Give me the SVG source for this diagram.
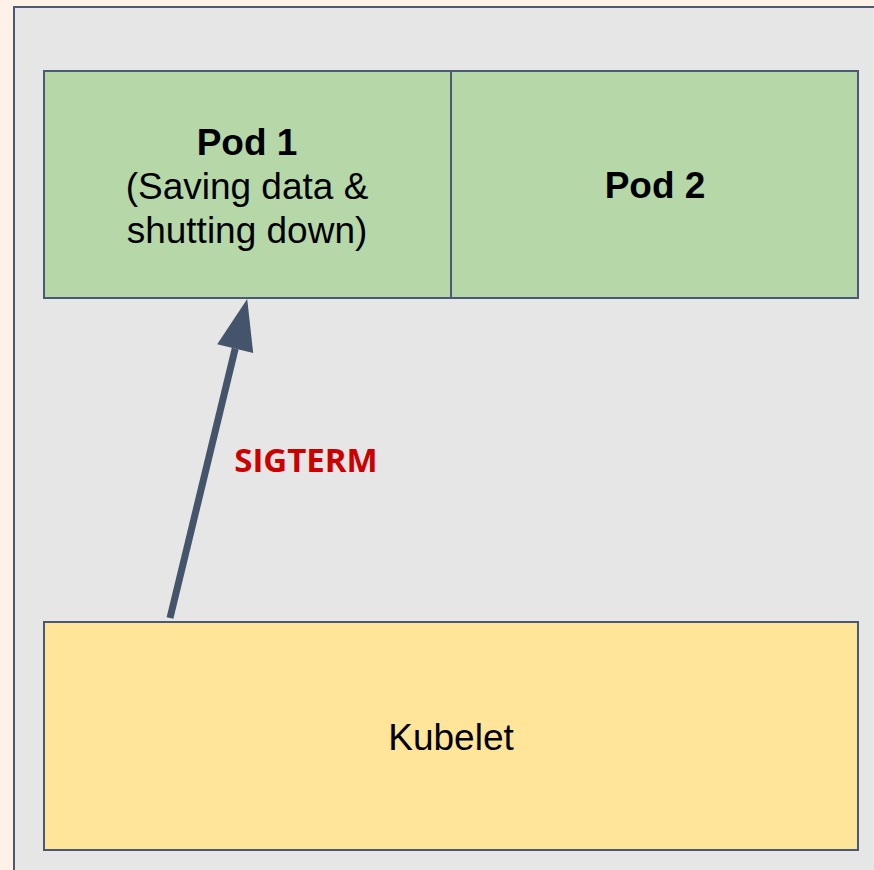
<svg xmlns="http://www.w3.org/2000/svg" width="874" height="870" viewBox="0 0 874 870">
<style>
.box{stroke:#4a5a73;stroke-width:2}
.t{font-family:"Liberation Sans",Arial,sans-serif;font-size:37px;fill:#000;text-anchor:middle}
.b{font-weight:bold}
</style>
<defs>
<marker id="ah" markerUnits="userSpaceOnUse" markerWidth="52" markerHeight="40" refX="0" refY="0" viewBox="-1 -20 52 40" orient="auto">
<path d="M51,0 L0,-18.5 L0,18.5 Z" fill="#44546a"/>
</marker>
</defs>
<rect x="0" y="0" width="874" height="870" fill="#fdf1e8"/>
<g id="container"><rect class="box" x="14" y="7" width="870" height="870" fill="#e6e6e6"/></g>
<g id="pod1">
<rect class="box" x="44" y="71" width="407" height="227" fill="#b6d7a8"/>
<text class="t b" x="247" y="155">Pod 1</text>
<text class="t" x="247" y="199">(Saving data &amp;</text>
<text class="t" x="247" y="243">shutting down)</text>
</g>
<g id="pod2">
<rect class="box" x="451" y="71" width="407" height="227" fill="#b6d7a8"/>
<text class="t b" x="655" y="198">Pod 2</text>
</g>
<g id="kubelet">
<rect class="box" x="44" y="622" width="814" height="228" fill="#ffe599"/>
<text class="t" x="451" y="750">Kubelet</text>
</g>
<g id="connectors">
<line x1="170" y1="618" x2="235.2" y2="348.6" stroke="#44546a" stroke-width="7" marker-end="url(#ah)"/>
<text x="306" y="472" font-family="'Open Sans',sans-serif" font-weight="bold" font-size="33" fill="#cc0000" text-anchor="middle">SIGTERM</text>
</g>
</svg>
